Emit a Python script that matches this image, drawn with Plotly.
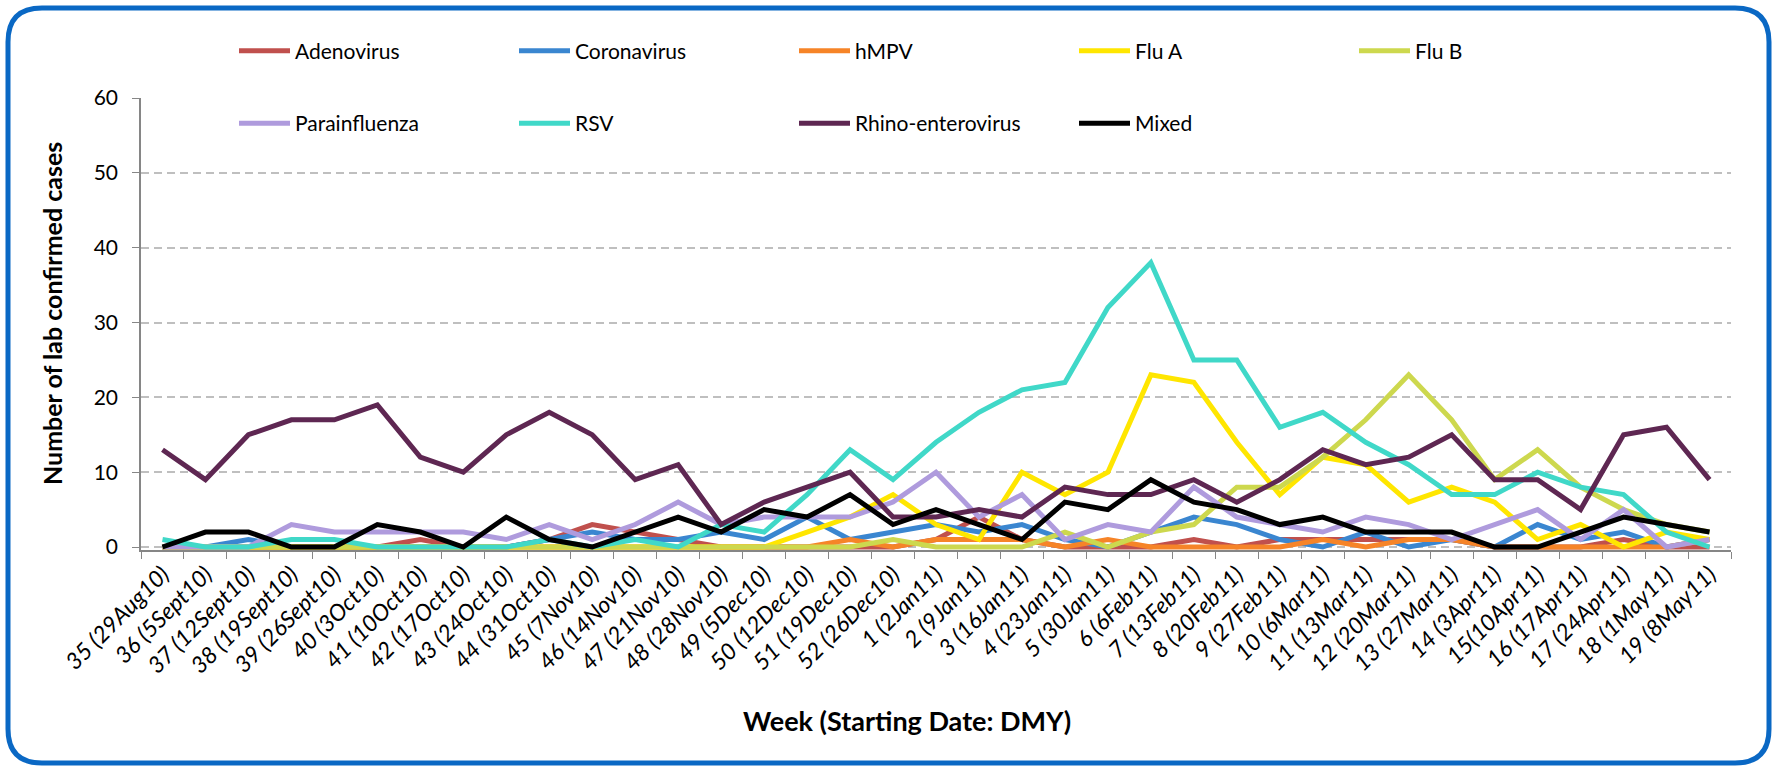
import plotly.graph_objects as go

weeks = ["35 (29Aug10)", "36 (5Sept10)", "37 (12Sept10)", "38 (19Sept10)", "39 (26Sept10)",
         "40 (3Oct10)", "41 (10Oct10)", "42 (17Oct10)", "43 (24Oct10)", "44 (31Oct10)",
         "45 (7Nov10)", "46 (14Nov10)", "47 (21Nov10)", "48 (28Nov10)", "49 (5Dec10)",
         "50 (12Dec10)", "51 (19Dec10)", "52 (26Dec10)", "1 (2Jan11)", "2 (9Jan11)",
         "3 (16Jan11)", "4 (23Jan11)", "5 (30Jan11)", "6 (6Feb11)", "7 (13Feb11)",
         "8 (20Feb11)", "9 (27Feb11)", "10 (6Mar11)", "11 (13Mar11)", "12 (20Mar11)",
         "13 (27Mar11)", "14 (3Apr11)", "15(10Apr11)", "16 (17Apr11)", "17 (24Apr11)",
         "18 (1May11)", "19 (8May11)"]

adenovirus = [0, 0, 0, 0, 0, 0, 1, 0, 0, 1, 3, 2, 1, 0, 0, 0, 0, 0, 1, 4, 1, 0, 0, 0, 1, 0, 1, 1, 1, 1, 1, 0, 0, 0, 1, 0, 0]
coronavirus = [0, 0, 1, 0, 0, 0, 0, 0, 0, 1, 2, 1, 1, 2, 1, 4, 1, 2, 3, 2, 3, 1, 0, 2, 4, 3, 1, 0, 2, 0, 1, 0, 3, 1, 2, 0, 1]
hmpv = [0, 0, 0, 0, 0, 0, 0, 0, 0, 0, 0, 0, 0, 0, 0, 0, 1, 0, 1, 1, 1, 0, 1, 0, 0, 0, 0, 1, 0, 1, 1, 0, 0, 0, 0, 0, 1]
flu_a = [0, 0, 0, 0, 0, 0, 0, 0, 0, 0, 0, 0, 0, 0, 0, 2, 4, 7, 3, 1, 10, 7, 10, 23, 22, 14, 7, 12, 11, 6, 8, 6, 1, 3, 0, 2, 1]
flu_b = [0, 0, 0, 0, 0, 0, 0, 0, 0, 0, 0, 0, 0, 0, 0, 0, 0, 1, 0, 0, 0, 2, 0, 2, 3, 8, 8, 12, 17, 23, 17, 9, 13, 8, 5, 3, 2]
parainfluenza = [0, 0, 0, 3, 2, 2, 2, 2, 1, 3, 1, 3, 6, 3, 4, 4, 4, 6, 10, 4, 7, 1, 3, 2, 8, 4, 3, 2, 4, 3, 1, 3, 5, 1, 5, 0, 1]
rsv = [1, 0, 0, 1, 1, 0, 0, 0, 0, 1, 0, 1, 0, 3, 2, 7, 13, 9, 14, 18, 21, 22, 32, 38, 25, 25, 16, 18, 14, 11, 7, 7, 10, 8, 7, 2, 0]
rhino = [13, 9, 15, 17, 17, 19, 12, 10, 15, 18, 15, 9, 11, 3, 6, 8, 10, 4, 4, 5, 4, 8, 7, 7, 9, 6, 9, 13, 11, 12, 15, 9, 9, 5, 15, 16, 9]
mixed = [0, 2, 2, 0, 0, 3, 2, 0, 4, 1, 0, 2, 4, 2, 5, 4, 7, 3, 5, 3, 1, 6, 5, 9, 6, 5, 3, 4, 2, 2, 2, 0, 0, 2, 4, 3, 2]

series = [
    ("Adenovirus", adenovirus, "#C0504D", "legend"),
    ("Coronavirus", coronavirus, "#3A86D0", "legend"),
    ("hMPV", hmpv, "#F68428", "legend"),
    ("Flu A", flu_a, "#FFE600", "legend"),
    ("Flu B", flu_b, "#CDD84E", "legend"),
    ("Parainfluenza", parainfluenza, "#AF9BDD", "legend2"),
    ("RSV", rsv, "#40D8C8", "legend2"),
    ("Rhino-enterovirus", rhino, "#5E2752", "legend2"),
    ("Mixed", mixed, "#000000", "legend2"),
]

W, H = 1777, 769
PL, PR, PT, PB = 141, 1731, 98, 550  # plot area pixel bounds


def px(x):
    return (x - PL) / (PR - PL)


def py(y):
    return (PB - y) / (PB - PT)


fig = go.Figure()
for name, vals, color, leg in series:
    fig.add_trace(go.Scatter(x=weeks, y=vals, name=name, mode="lines",
                             line=dict(color=color, width=5), legend=leg))

FONT = "Lato, Carlito, Calibri, sans-serif"

# rounded border
x0, x1, y0, y1, r = 8, 1769, 8, 763, 34
pts = [
    ("M", [(x0 + r, y0)]), ("L", [(x1 - r, y0)]), ("Q", [(x1, y0), (x1, y0 + r)]),
    ("L", [(x1, y1 - r)]), ("Q", [(x1, y1), (x1 - r, y1)]), ("L", [(x0 + r, y1)]),
    ("Q", [(x0, y1), (x0, y1 - r)]), ("L", [(x0, y0 + r)]), ("Q", [(x0, y0), (x0 + r, y0)]),
]
path = ""
for cmd, ps in pts:
    path += cmd + " " + " ".join(f"{px(a):.5f},{py(b):.5f}" for a, b in ps) + " "
path += "Z"

fig.update_layout(
    width=W, height=H,
    margin=dict(l=PL, r=W - PR, t=PT, b=H - PB),
    paper_bgcolor="white", plot_bgcolor="white",
    font=dict(family=FONT, color="#000000"),
    xaxis=dict(type="category", range=[-0.5, len(weeks) - 0.5], tickangle=-45,
               tickfont=dict(family=FONT, size=23, style="italic"),
               tickson="boundaries", ticks="outside", ticklen=7, tickcolor="#868686",
               showline=True, linecolor="#868686", linewidth=1.5, showgrid=False),
    yaxis=dict(range=[-0.4, 60], tickvals=[0, 10, 20, 30, 40, 50, 60],
               tickfont=dict(family=FONT, size=21), ticks="outside", ticklen=7,
               ticklabelstandoff=10,
               tickcolor="#868686", showline=True, linecolor="#868686", linewidth=1.5,
               showgrid=True, gridcolor="#BFBFBF", gridwidth=1.5, griddash="8px,5px",
               zeroline=False),
    legend=dict(orientation="h", x=px(234), y=py(51), xanchor="left", yanchor="middle",
                entrywidth=214, entrywidthmode="pixels", itemwidth=51,
                font=dict(family=FONT, size=21), bgcolor="rgba(0,0,0,0)"),
    legend2=dict(orientation="h", x=px(234), y=py(123.5), xanchor="left", yanchor="middle",
                 entrywidth=214, entrywidthmode="pixels", itemwidth=51,
                 font=dict(family=FONT, size=21), bgcolor="rgba(0,0,0,0)"),
    shapes=[dict(type="path", xref="paper", yref="paper", path=path,
                 line=dict(color="#0A68C4", width=5), fillcolor="rgba(0,0,0,0)", layer="above")],
    annotations=[
        dict(text="<b>Number of lab confirmed cases</b>", xref="paper", yref="paper",
             x=px(52), y=py(314), textangle=-90, showarrow=False,
             font=dict(family=FONT, size=25), xanchor="center", yanchor="middle"),
        dict(text="<b>Week (Starting Date: DMY)</b>", xref="paper", yref="paper",
             x=px(907), y=py(721), showarrow=False,
             font=dict(family=FONT, size=27), xanchor="center", yanchor="middle"),
    ],
)

fig.write_html("out.html", config={"displayModeBar": False},
               post_script="document.body.style.margin='0';document.body.style.overflow='hidden';")
